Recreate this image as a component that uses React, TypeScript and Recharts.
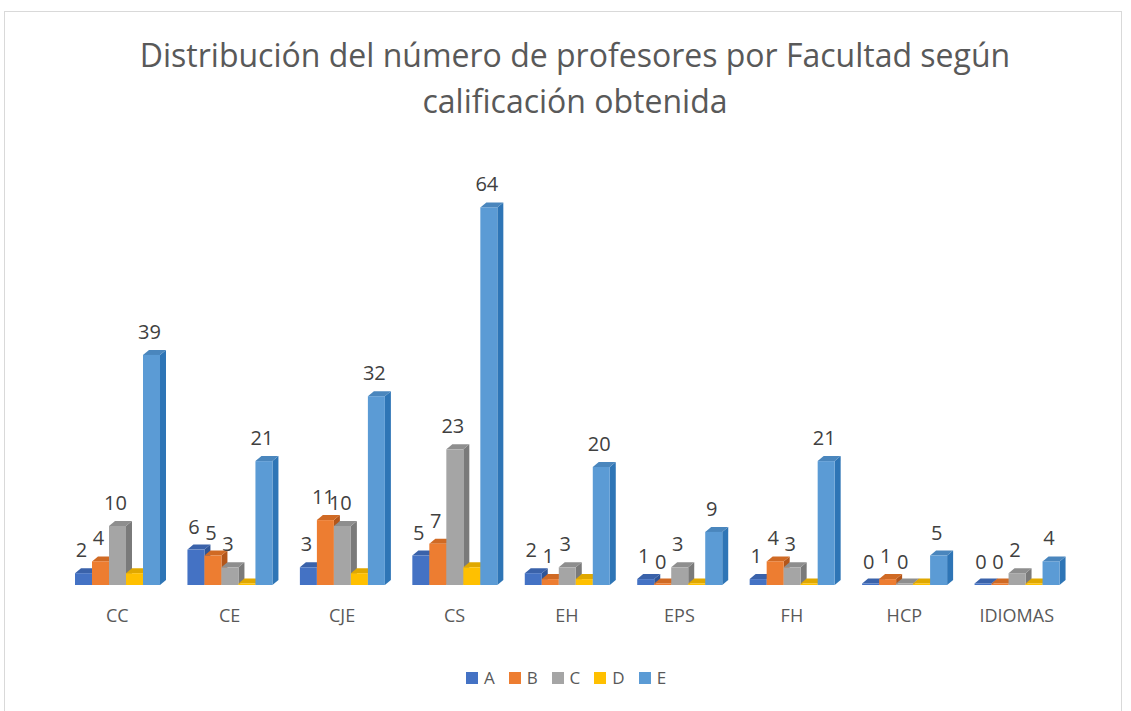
import React from 'react'
import { BarChart, Bar, XAxis, YAxis, LabelList } from 'recharts'

const facultades = ['CC', 'CE', 'CJE', 'CS', 'EH', 'EPS', 'FH', 'HCP', 'IDIOMAS']
const notaA = [2, 6, 3, 5, 2, 1, 1, 0, 0]
const notaB = [4, 5, 11, 7, 1, 0, 4, 1, 0]
const notaC = [10, 3, 10, 23, 3, 3, 3, 0, 2]
const notaD = [2, 0, 2, 3, 1, 0, 0, 0, 0]
const notaE = [39, 21, 32, 64, 20, 9, 21, 5, 4]

const series = [
  { key: 'A', color: '#4472C4', top: '#3a62aa', side: '#2f5597', label: true },
  { key: 'B', color: '#ED7D31', top: '#d06a24', side: '#b3561a', label: true },
  { key: 'C', color: '#A5A5A5', top: '#8e8e8e', side: '#7a7a7a', label: true },
  { key: 'D', color: '#FFC000', top: '#e0a800', side: '#bf9000', label: false },
  { key: 'E', color: '#5B9BD5', top: '#4a86bd', side: '#2e75b6', label: true }
]

const data = facultades.map((f, i) => ({
  name: f,
  A: notaA[i],
  B: notaB[i],
  C: notaC[i],
  D: notaD[i],
  E: notaE[i]
}))

const DX = 6
const DY = 5

const make3d = (s: typeof series[number]) => (props: any) => {
  const { x, y, width, height } = props
  const h = Math.max(height, 1.5)
  const yt = y + height - h
  const x2 = x + width
  const yb = yt + h
  return (
    <g>
      <polygon points={`${x2},${yt} ${x2 + DX},${yt - DY} ${x2 + DX},${yb - DY} ${x2},${yb}`} fill={s.side} />
      <polygon points={`${x},${yt} ${x + DX},${yt - DY} ${x2 + DX},${yt - DY} ${x2},${yt}`} fill={s.top} />
      <rect x={x} y={yt} width={width} height={h} fill={s.color} />
    </g>
  )
}

const valueLabel = (props: any) => {
  const { x, y, width, value } = props
  return (
    <text x={x + width / 2 - 2} y={y - 16} textAnchor="middle" fill="#404040" fontSize={20} fontFamily="Open Sans">
      {value}
    </text>
  )
}

export default function App() {
  return (
    <div style={{ position: 'absolute', left: 0, top: 0, width: 1131, height: 711, background: '#fff', fontFamily: 'Open Sans', overflow: 'hidden' }}>
      <div style={{ position: 'absolute', left: 4, top: 11, width: 1116, height: 720, border: '1px solid #d9d9d9' }} />
      <div style={{ position: 'absolute', left: 0, top: 32, width: 1150, textAlign: 'center', fontSize: 32, lineHeight: '46px', color: '#595959' }}>
        Distribución del número de profesores por Facultad según
        <br />
        calificación obtenida
      </div>
      <BarChart
        width={1131}
        height={711}
        data={data}
        margin={{ top: 172, left: 61, right: 58, bottom: 96 }}
        barSize={17}
        barGap={0}
        style={{ position: 'absolute', left: 0, top: 0 }}
      >
        <XAxis
          dataKey="name"
          axisLine={false}
          tickLine={false}
          tickSize={0}
          tickMargin={24}
          tick={{ fill: '#595959', fontSize: 18, fontFamily: 'Open Sans' }}
        />
        <YAxis hide domain={[0, 70]} />
        {series.map((s) => (
          <Bar key={s.key} dataKey={s.key} fill={s.color} shape={make3d(s)} isAnimationActive={false}>
            {s.label && <LabelList dataKey={s.key} content={valueLabel} />}
          </Bar>
        ))}
      </BarChart>
      <div style={{ position: 'absolute', left: 0, top: 666, width: 1146, display: 'flex', justifyContent: 'center', fontSize: 17, color: '#595959' }}>
        {series.map((s) => (
          <div key={s.key} style={{ display: 'flex', alignItems: 'center', marginRight: 14 }}>
            <span style={{ display: 'inline-block', width: 12, height: 12, background: s.color, marginRight: 6 }} />
            <span>{s.key}</span>
          </div>
        ))}
      </div>
    </div>
  )
}
